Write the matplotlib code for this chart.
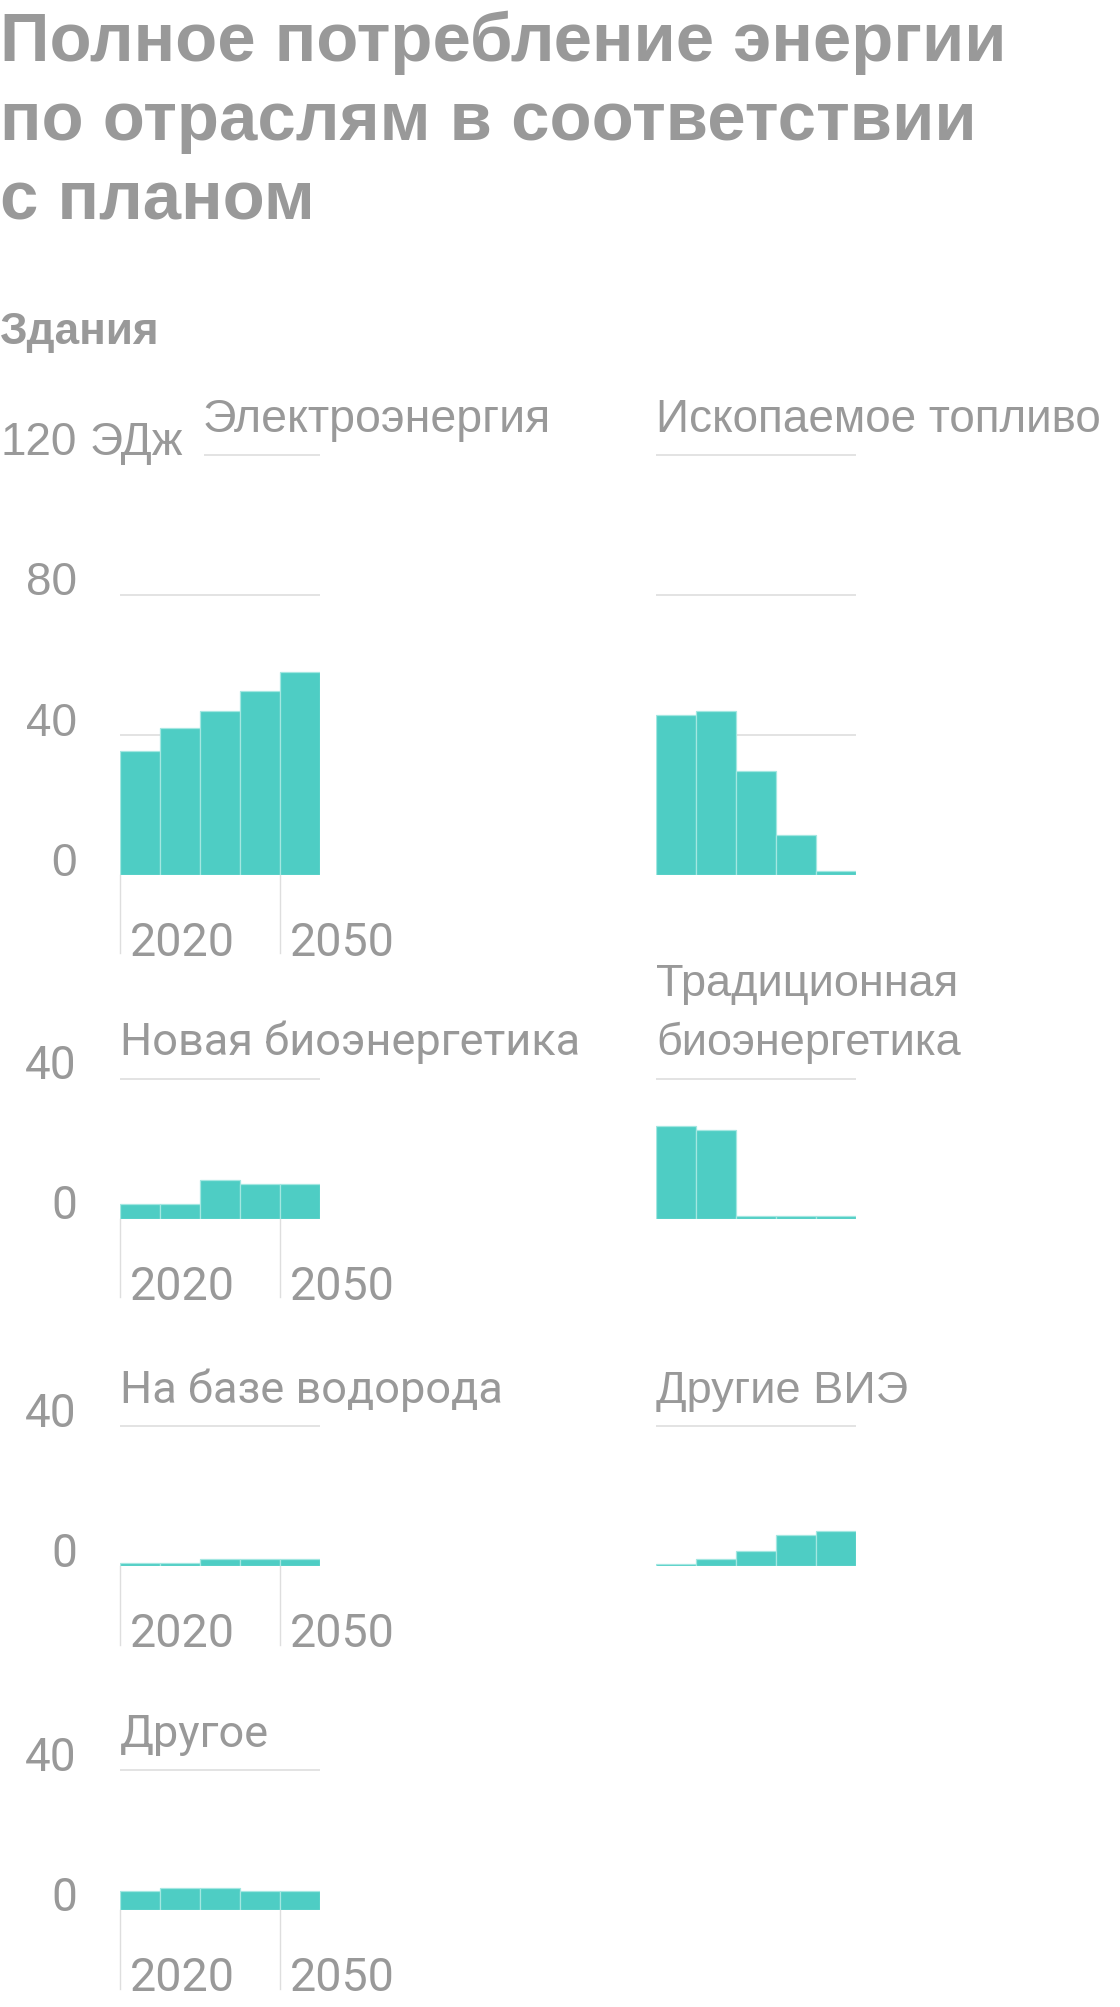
import matplotlib
matplotlib.use('Agg')
import matplotlib.pyplot as plt
from matplotlib.transforms import blended_transform_factory

W, H = 1120, 2008
DPI = 100

# data (EJ)
years = [2020, 2025, 2030, 2040, 2050]
tick_years = [2020, 2050]

electricity = [35.2, 42.0, 46.6, 52.3, 58.0]
fossil = [45.5, 46.6, 29.5, 11.2, 1.0]
new_bio = [4.2, 4.2, 11.1, 9.9, 9.9]
trad_bio = [26.5, 25.4, 0.7, 0.7, 0.7]
hydrogen = [0.8, 0.8, 2.0, 2.0, 2.0]
other_res = [0.7, 1.9, 4.3, 8.8, 10.0]
other = [5.4, 6.4, 6.4, 5.4, 5.4]

title_lines = ['Полное потребление энергии',
               'по отраслям в соответствии',
               'с планом']
subtitle = 'Здания'
unit = 'ЭДж'

top_ticks = [0, 40, 80, 120]
small_ticks = [0, 40]

# (title, values, row, col, title font, title size)
panels = [
    ('Электроэнергия', electricity, 0, 0, 'Liberation Sans', 33.5),
    ('Ископаемое топливо', fossil, 0, 1, 'Liberation Sans', 33),
    ('Новая биоэнергетика', new_bio, 1, 0, 'Roboto', 32.5),
    ('Традиционная\nбиоэнергетика', trad_bio, 1, 1, 'Liberation Sans', 32.5),
    ('На базе водорода', hydrogen, 2, 0, 'Roboto', 32.5),
    ('Другие ВИЭ', other_res, 2, 1, 'Liberation Sans', 32.5),
    ('Другое', other, 3, 0, 'Roboto', 32.5),
]

GREY = '#999999'
GRID = '#dedede'
BAR = '#4ecdc4'
EDGE = '#a3e7e1'

col_x = [120, 656]
plot_w = 200
row_base = [875.5, 1219.5, 1567.0, 1911.0]
px_per_unit = 3.5
num_fs = 33

fig = plt.figure(figsize=(W / DPI, H / DPI), dpi=DPI)


def fy(y):
    return 1 - y / H


for i, line in enumerate(title_lines):
    fig.text(0, fy(61 + i * 79.5), line, fontsize=49.6, fontweight='bold',
             family='Liberation Sans', color=GREY, va='baseline', ha='left')
fig.text(0, fy(344), subtitle, fontsize=31.8, fontweight='bold',
         family='Liberation Sans', color=GREY, va='baseline', ha='left')

for title, vals, row, col, tfont, tsize in panels:
    ticks = top_ticks if row == 0 else small_ticks
    top = ticks[-1]
    base = row_base[row]
    height = top * px_per_unit
    x0 = col_x[col]
    ax = fig.add_axes([x0 / W, fy(base), plot_w / W, height / H])
    ax.set_xlim(0, len(years))
    ax.set_ylim(0, top)
    ax.set_axis_off()

    # gridlines
    for t in ticks[1:]:
        xmin = 0
        if row == 0 and col == 0 and t == top:
            xmin = 2.1  # leave room for the unit label
        ax.hlines(t, xmin, len(years), color=GRID, lw=1.2, zorder=1,
                  clip_on=False)

    ax.bar(range(len(years)), vals, width=1, align='edge', color=BAR,
           edgecolor=EDGE, linewidth=0.9, zorder=2)

    # panel title
    tx = x0 + (83 if (row == 0 and col == 0) else 0)
    ty = base - height - 24
    lines = title.split('\n')
    for k, line in enumerate(reversed(lines)):
        fig.text(tx / W, fy(ty - k * 59), line, fontsize=tsize, family=tfont,
                 color=GREY, va='baseline', ha='left')

    if col == 0:
        trans = blended_transform_factory(fig.transFigure, ax.transData)
        yfont = 'Liberation Sans' if row == 0 else 'Roboto'
        for t in ticks:
            ax.text(77 / W, t, str(t), transform=trans, fontsize=num_fs,
                    family=yfont, color=GREY, ha='right', va='baseline',
                    clip_on=False)
        if row == 0:
            ax.text(90 / W, top, unit, transform=trans, fontsize=num_fs,
                    family='Liberation Sans', color=GREY, ha='left',
                    va='baseline', clip_on=False)

        # year ticks below the bars
        for yr in tick_years:
            p = years.index(yr)
            ax.plot([p, p], [0, -22.5], color=GRID, lw=1.0, clip_on=False,
                    zorder=1)
            ax.text(p + 0.25, -23, str(yr), fontsize=num_fs + 0.6,
                    family='Roboto', color=GREY, ha='left', va='baseline',
                    clip_on=False)

fig.savefig('out.png', dpi=DPI, facecolor='white')
